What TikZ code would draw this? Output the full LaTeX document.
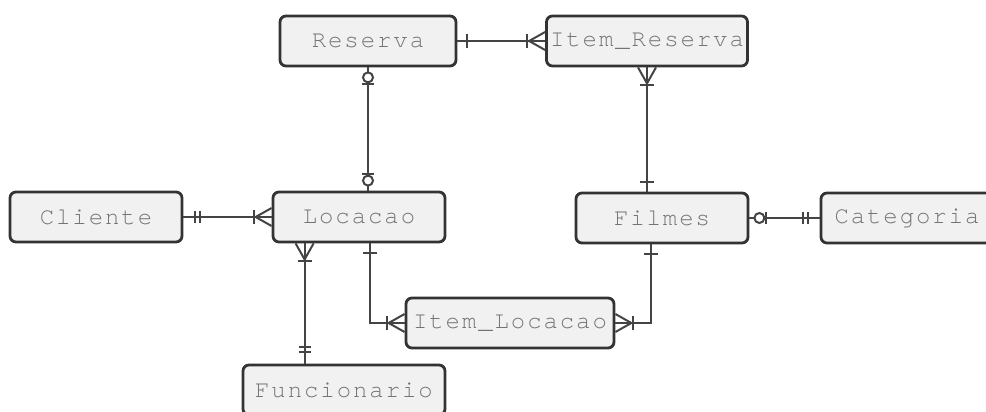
\documentclass[tikz,border=0pt]{standalone}
\usepackage{fontspec}
\usepackage{xcolor}
\usetikzlibrary{positioning}
\usetikzlibrary{calc}
\newfontfamily\erfont[LetterSpace=8]{TeX Gyre Cursor}
\definecolor{boxfill}{RGB}{240,241,240}
\definecolor{boxline}{RGB}{51,51,51}
\definecolor{relline}{RGB}{68,68,68}
\definecolor{namegray}{RGB}{115,115,115}

\begin{document}
\begin{tikzpicture}[x=1pt, y=-1pt,
    entity/.style={draw=boxline, line width=2.8pt, fill=boxfill, rounded corners=6pt,
      minimum height=50pt, inner sep=0pt, text=namegray, font=\erfont\fontsize{24}{27}\selectfont},
    rel/.style={draw=relline, line width=2pt},
    one/.pic={\draw[rel] (10,-7)--(10,7);},
    exactlyone/.pic={\draw[rel] (12,-6)--(12,6) (17,-6)--(17,6);},
    oneormany/.pic={\draw[rel] (0,-9)--(16,0)--(0,9); \draw[rel] (18,-7)--(18,7);},
    zeroorone/.pic={\draw[rel] (17,-6)--(17,6); \draw[rel, fill=white] (10,0) circle (5);}]
  \useasboundingbox (0,0) rectangle (986,412);
  \clip (0,0) rectangle (986,412);

  % entities
  \node[entity, minimum width=176pt] (reserva) at (368,41) {Reserva};
  \node[entity, minimum width=201pt] (itemres) at (647,41) {Item\_Reserva};
  \node[entity, minimum width=172pt] (cliente) at (96,217) {Cliente};
  \node[entity, minimum width=172pt] (locacao) at (359,217) {Locacao};
  \node[entity, minimum width=172pt] (filmes) at (662,218) {Filmes};
  \node[entity, minimum width=172pt] (categoria) at (907,218) {Categoria};
  \node[entity, minimum width=208pt] (itemloc) at (510,323) {Item\_Locacao};
  \node[entity, minimum width=202pt] (funcionario) at (344,390) {Funcionario};

  % relationships
  \draw[rel] (reserva.east) -- (itemres.west);
  \pic at (reserva.east) {one};
  \pic[rotate=180] at (itemres.west) {oneormany};

  \draw[rel] (reserva.south) -- (reserva.south |- locacao.north);
  \pic[rotate=-90] at (reserva.south) {zeroorone};
  \pic[rotate=90] at (reserva.south |- locacao.north) {zeroorone};

  \draw[rel] (itemres.south) -- (itemres.south |- filmes.north);
  \pic[rotate=-90] at (itemres.south) {oneormany};
  \pic[rotate=90] at (itemres.south |- filmes.north) {one};

  \draw[rel] (cliente.east) -- (locacao.west);
  \pic at (cliente.east) {exactlyone};
  \pic[rotate=180] at (locacao.west) {oneormany};

  \draw[rel] (filmes.east) -- (categoria.west);
  \pic at (filmes.east) {zeroorone};
  \pic[rotate=180] at (categoria.west) {exactlyone};

  \coordinate (lf) at ($(locacao.south west)+(33,0)$);
  \draw[rel] (lf) -- (lf |- funcionario.north);
  \pic[rotate=-90] at (lf) {oneormany};
  \pic[rotate=90] at (lf |- funcionario.north) {exactlyone};

  \coordinate (li) at ($(locacao.south)+(11,0)$);
  \draw[rel] (li) |- (itemloc.west);
  \pic[rotate=-90] at (li) {one};
  \pic[rotate=180] at (itemloc.west) {oneormany};

  \coordinate (fi) at ($(filmes.south)+(-11,0)$);
  \draw[rel] (fi) |- (itemloc.east);
  \pic[rotate=-90] at (fi) {one};
  \pic at (itemloc.east) {oneormany};
\end{tikzpicture}
\end{document}
